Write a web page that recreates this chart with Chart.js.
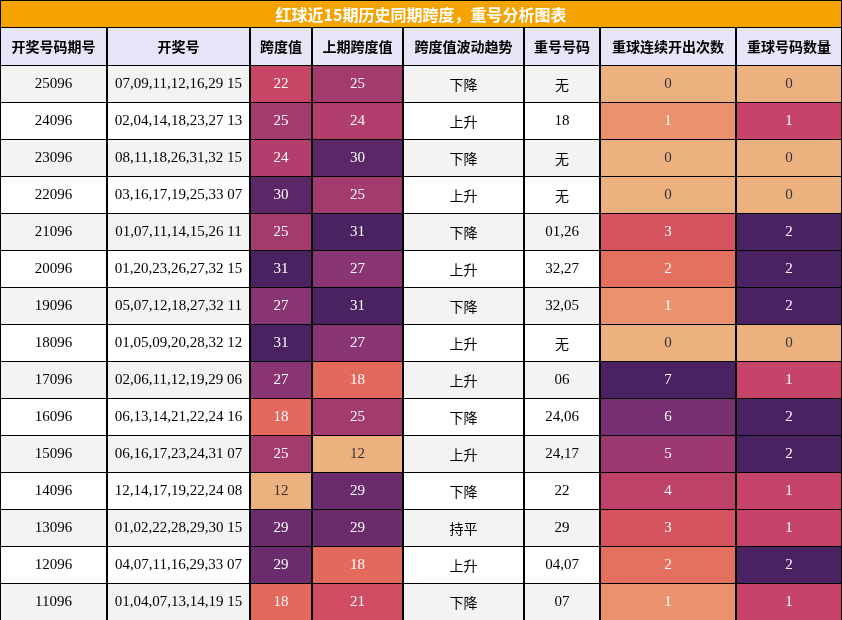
<!DOCTYPE html>
<html><head><meta charset="utf-8">
<script src="https://cdn.jsdelivr.net/npm/chart.js@4/dist/chart.umd.min.js"></script>
<style>html,body{margin:0;padding:0;background:#fff}#wrap{width:842px;height:620px}</style>
</head><body><div id="wrap"><canvas id="tbl"></canvas></div>
<script>
const title = '红球近15期历史同期跨度，重号分析图表';
const headers = ['开奖号码期号', '开奖号', '跨度值', '上期跨度值', '跨度值波动趋势', '重号号码', '重球连续开出次数', '重球号码数量'];
const periods = ['25096','24096','23096','22096','21096','20096','19096','18096','17096','16096','15096','14096','13096','12096','11096'];
const draws = ['07,09,11,12,16,29 15','02,04,14,18,23,27 13','08,11,18,26,31,32 15','03,16,17,19,25,33 07','01,07,11,14,15,26 11','01,20,23,26,27,32 15','05,07,12,18,27,32 11','01,05,09,20,28,32 12','02,06,11,12,19,29 06','06,13,14,21,22,24 16','06,16,17,23,24,31 07','12,14,17,19,22,24 08','01,02,22,28,29,30 15','04,07,11,16,29,33 07','01,04,07,13,14,19 15'];
const spans = [22,25,24,30,25,31,27,31,27,18,25,12,29,29,18];
const prevSpans = [25,24,30,25,31,27,31,27,18,25,12,29,29,18,21];
const trends = ['下降','上升','下降','上升','下降','上升','下降','上升','上升','下降','上升','下降','持平','上升','下降'];
const repeats = ['无','18','无','无','01,26','32,27','32,05','无','06','24,06','24,17','22','29','04,07','07'];
const streaks = [0,1,0,0,3,2,1,0,7,6,5,4,3,2,1];
const repeatCounts = [0,1,0,0,2,2,2,0,1,2,2,1,1,2,1];

// layout
const colEdges = [0,107,250,312,403,524,600,736,842];
const titleH = 27, headH = 38, rowH = 37;
const stops = ['#EDB07F','#EA8C6B','#E2655B','#CD4763','#A93C6E','#7E3275','#4B2261'];
const serif = '"Liberation Serif", "Times New Roman", serif';
const cjk = '"Noto Sans CJK SC", sans-serif';

function hex(c){return [1,3,5].map(i=>parseInt(c.substr(i,2),16));}
function ramp(t){
  t = Math.max(0, Math.min(1, t));
  const p = t*(stops.length-1), i = Math.min(Math.floor(p), stops.length-2), f = p-i;
  const a = hex(stops[i]), b = hex(stops[i+1]);
  return 'rgb(' + a.map((v,k)=>Math.round(v+(b[k]-v)*f)).join(',') + ')';
}
const spanColor = v => ramp((v-12)/19);
const streakColor = v => ramp(v/7);
const countColor = v => v === 0 ? stops[0] : v === 1 ? '#C6446A' : stops[6];

const tablePlugin = {
  id: 'table',
  afterDraw(chart) {
    const {ctx, scales: {x, y}} = chart;
    const X = v => x.getPixelForValue(v), Y = v => y.getPixelForValue(v);
    const cell = (c, top, h, fill, text, font, color) => {
      const x0 = X(colEdges[c]), x1 = X(colEdges[c+1]), y0 = Y(top), y1 = Y(top+h);
      ctx.fillStyle = fill; ctx.fillRect(x0, y0, x1-x0, y1-y0);
      ctx.strokeStyle = '#000'; ctx.lineWidth = 1;
      ctx.strokeRect(x0+0.5, y0+0.5, x1-x0-1, y1-y0);
      ctx.fillStyle = color; ctx.font = font;
      ctx.textAlign = 'center'; ctx.textBaseline = 'middle';
      ctx.fillText(text, (x0+x1)/2, (y0+y1)/2 + 1);
    };
    ctx.save();
    // title
    ctx.fillStyle = '#F5A300';
    ctx.fillRect(X(0), Y(0), X(842)-X(0), Y(titleH)-Y(0));
    ctx.strokeStyle = '#000'; ctx.strokeRect(X(0)+0.5, Y(0)+0.5, X(842)-X(0)-1, Y(titleH)-Y(0));
    ctx.fillStyle = '#fff'; ctx.font = 'bold 16px ' + cjk;
    ctx.textAlign = 'center'; ctx.textBaseline = 'middle';
    ctx.fillText(title, X(421), Y(titleH/2)+1);
    headers.forEach((h, c) => cell(c, titleH, headH, '#E6E6F8', h, 'bold 14px ' + cjk, '#000'));
    periods.forEach((p, r) => {
      const top = titleH + headH + r*rowH;
      const bg = r % 2 === 0 ? '#F3F3F3' : '#FFFFFF';
      const txt = v => v === 0 || v === 12 ? '#333' : '#fff';
      cell(0, top, rowH, bg, p, '15px ' + serif, '#000');
      cell(1, top, rowH, bg, draws[r], '15px ' + serif, '#000');
      cell(2, top, rowH, spanColor(spans[r]), String(spans[r]), '15px ' + serif, txt(spans[r]));
      cell(3, top, rowH, spanColor(prevSpans[r]), String(prevSpans[r]), '15px ' + serif, txt(prevSpans[r]));
      cell(4, top, rowH, bg, trends[r], '14px ' + cjk, '#000');
      cell(5, top, rowH, bg, repeats[r], (repeats[r] === '无' ? '14px ' + cjk : '15px ' + serif), '#000');
      cell(6, top, rowH, streakColor(streaks[r]), String(streaks[r]), '15px ' + serif, txt(streaks[r]));
      cell(7, top, rowH, countColor(repeatCounts[r]), String(repeatCounts[r]), '15px ' + serif, txt(repeatCounts[r]));
    });
    ctx.restore();
  }
};

new Chart(document.getElementById('tbl'), {
  type: 'scatter',
  data: { datasets: [{ data: [] }] },
  options: {
    responsive: true,
    maintainAspectRatio: false,
    animation: false,
    layout: { padding: 0 },
    scales: {
      x: { type: 'linear', min: 0, max: 842, display: false },
      y: { type: 'linear', min: 0, max: 620, reverse: true, display: false }
    },
    plugins: { legend: { display: false }, tooltip: { enabled: false } }
  },
  plugins: [tablePlugin]
});
</script></body></html>
